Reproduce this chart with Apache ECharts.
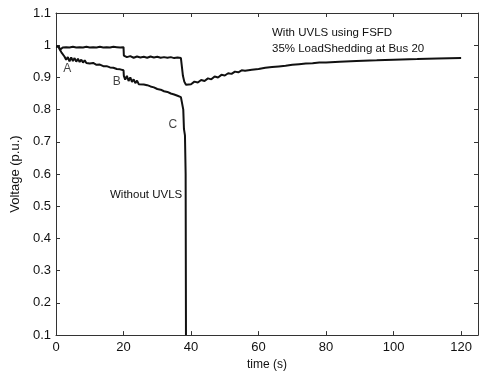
<!DOCTYPE html>
<html>
<head>
<meta charset="utf-8">
<script src="https://cdn.jsdelivr.net/npm/echarts@6/dist/echarts.min.js"></script>
<style>
  html, body { margin: 0; padding: 0; background: #fff; }
  #chart { width: 481px; height: 376px; }
</style>
</head>
<body>
<div id="chart"></div>
<script>
// time (s) and voltage (p.u.)
const withUvlsTime = [0, 0.4, 0.8, 1.2, 1.6, 2, 3, 4, 5, 6, 7, 8, 9, 10, 11, 12, 13, 14, 15, 16, 17, 18, 19, 20,
  20.1, 21, 22, 23, 24, 25, 26, 27, 28, 29, 30, 31, 32, 33, 34, 35, 36, 37, 37.3,
  37.6, 38, 38.5, 39, 40, 41, 42, 43, 44, 45, 46, 47, 48, 49, 50, 51, 52, 53, 54, 55, 56, 58, 60, 62, 64, 66, 68, 70,
  72, 74, 76, 78, 80, 84, 89, 95, 100, 107, 113, 120];
const withUvlsVolt = [0.996, 0.99, 0.996, 0.986, 0.992, 0.993, 0.994, 0.993, 0.995, 0.993, 0.994, 0.993, 0.995, 0.993, 0.994, 0.993, 0.995, 0.993, 0.994, 0.993, 0.995, 0.994, 0.993, 0.994,
  0.968, 0.963, 0.966, 0.961, 0.965, 0.962, 0.964, 0.961, 0.965, 0.962, 0.964, 0.961, 0.963, 0.961, 0.963, 0.96, 0.962, 0.96, 0.959,
  0.905, 0.887, 0.877, 0.882, 0.879, 0.887, 0.884, 0.892, 0.889, 0.897, 0.894, 0.903, 0.9, 0.908, 0.906, 0.913, 0.911, 0.918, 0.916, 0.922, 0.921, 0.924, 0.926, 0.93, 0.932, 0.934, 0.936, 0.939,
  0.941, 0.943, 0.944, 0.946, 0.946, 0.949, 0.951, 0.953, 0.955, 0.957, 0.959, 0.96];

const withoutUvlsTime = [0, 0.4, 0.8, 1.2, 1.6, 2, 2.5, 3, 3.5, 4, 4.5, 5, 5.5, 6, 6.5, 7, 7.5, 8, 8.5, 9, 9.5, 10,
  11, 12, 13, 14, 15, 16, 17, 18, 19, 20, 20.1, 20.5, 21, 21.5, 22, 22.5, 23, 23.5, 24, 24.5, 25,
  26, 27, 28, 29, 30, 31, 32, 33, 34, 35, 36, 37, 37.5, 37.7, 37.9, 38.2, 38.4, 38.5];
const withoutUvlsVolt = [0.996, 0.99, 0.995, 0.985, 0.978, 0.972, 0.965, 0.955, 0.963, 0.95, 0.962, 0.951, 0.96, 0.949, 0.958, 0.948, 0.955, 0.946, 0.953, 0.945, 0.95, 0.943,
  0.945, 0.939, 0.94, 0.935, 0.935, 0.931, 0.93, 0.926, 0.925, 0.922, 0.905, 0.893, 0.905, 0.889, 0.9, 0.886, 0.894, 0.882, 0.89, 0.879, 0.884,
  0.878, 0.876, 0.872, 0.869, 0.864, 0.862, 0.857, 0.855, 0.85, 0.847, 0.843, 0.839, 0.836, 0.8, 0.74, 0.72, 0.6, 0.1];

const xTicks = [0, 20, 40, 60, 80, 100, 120];

// point labels on the "without UVLS" curve
const markNames = ['A', 'B', 'C'];
const markTime = [3.3, 18, 34.6];
const markVolt = [0.926, 0.886, 0.752];

const pairs = (xs, ys) => xs.map((x, i) => [x, ys[i]]);

const font = '"Liberation Sans", Arial, sans-serif';
const axisColor = '#333';

const chart = echarts.init(document.getElementById('chart'), null, { renderer: 'canvas' });

const baseX = {
  type: 'value', min: 0, max: 125, interval: 20,
  axisLine: { show: true, onZero: false, lineStyle: { color: axisColor, width: 1 } },
  axisTick: { show: true, inside: true, length: 4, lineStyle: { color: axisColor } },
  splitLine: { show: false }
};
const baseY = {
  type: 'value', min: 0.1, max: 1.1, interval: 0.1,
  axisLine: { show: true, onZero: false, lineStyle: { color: axisColor, width: 1 } },
  axisTick: { show: true, inside: true, length: 4, lineStyle: { color: axisColor } },
  splitLine: { show: false }
};

chart.setOption({
  animation: false,
  textStyle: { fontFamily: font },
  grid: { left: 56, right: 2, top: 13, bottom: 38 },
  xAxis: [
    Object.assign({}, baseX, {
      position: 'bottom',
      name: 'time (s)', nameLocation: 'middle', nameGap: 22,
      nameTextStyle: { color: '#111', fontSize: 12, fontFamily: font },
      axisLabel: {
        color: '#111', fontSize: 13, fontFamily: font, margin: 6,
        formatter: v => (xTicks.includes(v) ? String(v) : '')
      }
    }),
    Object.assign({}, baseX, { position: 'top', axisLabel: { show: false } })
  ],
  yAxis: [
    Object.assign({}, baseY, {
      position: 'left',
      name: 'Voltage (p.u.)', nameLocation: 'middle', nameGap: 30,
      nameTextStyle: { color: '#111', fontSize: 13, fontFamily: font },
      axisLabel: {
        color: '#111', fontSize: 13, fontFamily: font, margin: 5,
        formatter: v => String(Math.round(v * 10) / 10)
      }
    }),
    Object.assign({}, baseY, { position: 'right', axisLabel: { show: false } })
  ],
  series: [
    {
      name: 'With UVLS', type: 'line', showSymbol: false,
      data: pairs(withUvlsTime, withUvlsVolt),
      lineStyle: { color: '#111', width: 2 }
    },
    {
      name: 'Without UVLS', type: 'line', showSymbol: false,
      data: pairs(withoutUvlsTime, withoutUvlsVolt),
      lineStyle: { color: '#111', width: 2 }
    },
    {
      name: 'marks', type: 'scatter', symbolSize: 1,
      itemStyle: { color: 'rgba(0,0,0,0)' },
      data: markNames.map((n, i) => ({ name: n, value: [markTime[i], markVolt[i]] })),
      label: {
        show: true, position: 'inside', formatter: '{b}',
        color: '#111', fontSize: 12, fontFamily: font
      }
    }
  ],
  graphic: [
    { type: 'text', left: 272, top: 27, style: { text: 'With UVLS using FSFD', font: '11.5px ' + font, fill: '#111' } },
    { type: 'text', left: 272, top: 43, style: { text: '35% LoadShedding at Bus 20', font: '11.5px ' + font, fill: '#111' } },
    { type: 'text', left: 110, top: 189, style: { text: 'Without UVLS', font: '11.5px ' + font, fill: '#111' } }
  ]
});
</script>
</body>
</html>
